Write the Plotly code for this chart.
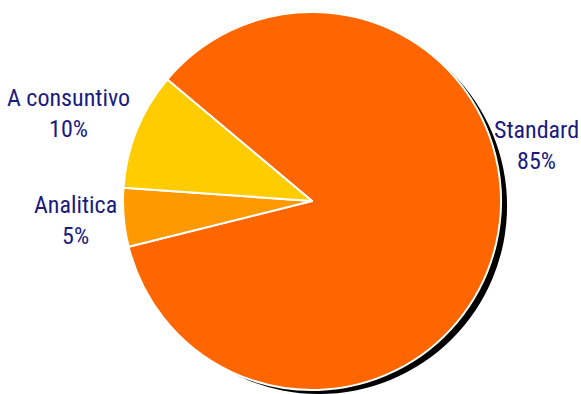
import plotly.graph_objects as go

labels = ["Standard", "Analitica", "A consuntivo"]
values = [85, 5, 10]
colors = ["#FF6600", "#FF9900", "#FFCC00"]

W, H = 581, 394
FONT = "Roboto Condensed, Liberation Sans Narrow, Arial Narrow, sans-serif"
TXT = "#1A1A80"

fig = go.Figure()

# shadow pie
fig.add_trace(go.Pie(
    values=[sum(values)], labels=["shadow"], marker=dict(colors=["#000000"], line=dict(width=0)),
    textinfo="none", hoverinfo="skip", sort=False,
    domain=dict(x=[131 / W, 507 / W], y=[0, 1 - 18 / H]), showlegend=False,
))

# main pie
fig.add_trace(go.Pie(
    values=values, labels=labels, marker=dict(colors=colors, line=dict(color="white", width=2)),
    textinfo="none", sort=False, direction="clockwise", rotation=-50,
    domain=dict(x=[123 / W, 501 / W], y=[1 - 390 / H, 1 - 12 / H]), showlegend=False,
))

# label placement (pixel centres) for each category
label_pos = {"Standard": (536, 145), "Analitica": (75, 221), "A consuntivo": (68, 113)}
total = sum(values)
for lab, val in zip(labels, values):
    px, py = label_pos[lab]
    fig.add_annotation(
        x=px / W, y=1 - py / H, xref="paper", yref="paper",
        text=f"{lab}<br>{round(val / total * 100)}%", showarrow=False,
        font=dict(family=FONT, size=24, color=TXT), xanchor="center", yanchor="middle",
    )

fig.update_layout(
    width=W, height=H, margin=dict(l=0, r=0, t=0, b=0),
    paper_bgcolor="white", plot_bgcolor="white",
)

fig.write_html("out.html")
